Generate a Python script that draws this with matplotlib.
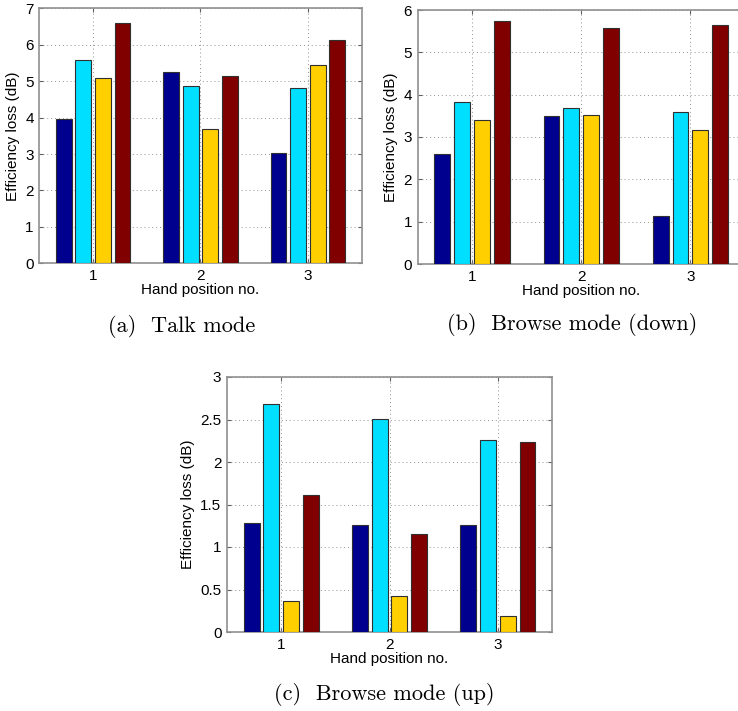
# efficiency loss vs hand position, three phone modes
import matplotlib.pyplot as plt
import numpy as np

plt.rcParams['font.family'] = ['Liberation Sans', 'DejaVu Sans']

# DATA
positions = [1, 2, 3]
# rows: hand position 1..3, cols: the four bars of each group
talk = np.array([[3.97, 5.58, 5.08, 6.59],
                 [5.24, 4.86, 3.70, 5.13],
                 [3.04, 4.80, 5.44, 6.12]])
browse_down = np.array([[2.59, 3.83, 3.39, 5.75],
                        [3.49, 3.69, 3.52, 5.57],
                        [1.13, 3.60, 3.17, 5.64]])
browse_up = np.array([[1.285, 2.68, 0.367, 1.616],
                      [1.26, 2.51, 0.418, 1.15],
                      [1.26, 2.255, 0.185, 2.23]])
colors = ['#00008f', '#00dfff', '#ffcf00', '#800000']
captions = ['(a)  Talk mode', '(b)  Browse mode (down)', '(c)  Browse mode (up)']

W, H = 738, 711
fig = plt.figure(figsize=(W / 100, H / 100), dpi=100)


def make_axes(l, r, t, b):
    return fig.add_axes([l / W, 1 - b / H, (r - l) / W, (b - t) / H])


def draw(ax, vals, ymax, yticks, ticklabels):
    n = vals.shape[1]
    gw = n / (n + 1.5)
    step = gw / n
    x = np.array(positions, dtype=float)
    for k in range(n):
        off = (k - (n - 1) / 2) * step
        ax.bar(x + off, vals[:, k], width=0.8 * step, color=colors[k],
               edgecolor='#303030', linewidth=0.8, zorder=3)
    ax.set_xlim(0.5, 3.5)
    ax.set_ylim(0, ymax)
    ax.set_xticks(positions)
    ax.set_yticks(yticks)
    ax.set_yticklabels(ticklabels)
    ax.grid(True, linestyle=(0, (1, 3)), color='#909090', linewidth=0.7, zorder=0)
    ax.tick_params(direction='in', top=True, right=True, length=3,
                   labelsize=11, color='#606060', pad=4)
    for s in ax.spines.values():
        s.set_color('#909090')
        s.set_linewidth(1.2)
    ax.set_xlabel('Hand position no.', fontsize=11, labelpad=0)
    ax.set_ylabel('Efficiency loss (dB)', fontsize=11, labelpad=4)


ax1 = make_axes(39.3, 361.7, 8.3, 263.3)
draw(ax1, talk, 7, range(8), [str(i) for i in range(8)])

ax2 = make_axes(417.5, 745, 10, 264)
draw(ax2, browse_down, 6, range(7), [str(i) for i in range(7)])

ax3 = make_axes(227, 552, 377, 632)
yt = np.arange(0, 3.01, 0.5)
draw(ax3, browse_up, 3, yt, ['0', '0.5', '1', '1.5', '2', '2.5', '3'])

fig.text(182 / W, 1 - 326 / H, captions[0], family='cmr10', fontsize=16,
         ha='center', va='center')
fig.text(572 / W, 1 - 324 / H, captions[1], family='cmr10', fontsize=16,
         ha='center', va='center')
fig.text(384 / W, 1 - 694 / H, captions[2], family='cmr10', fontsize=16,
         ha='center', va='center')

fig.savefig('out.png', dpi=100)
